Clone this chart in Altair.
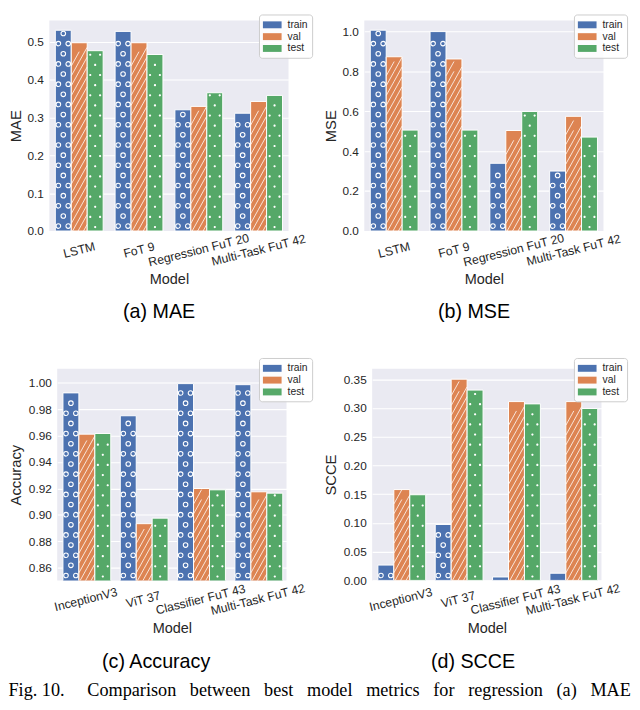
import altair as alt
import pandas as pd

SPLITS = ["train", "val", "test"]
COLORS = ["#4C72B0", "#DD8452", "#55A868"]

REG_MODELS = ["LSTM", "FoT 9", "Regression FuT 20", "Multi-Task FuT 42"]
CLS_MODELS = ["InceptionV3", "ViT 37", "Classifier FuT 43", "Multi-Task FuT 42"]

MAE_TRAIN = [0.530, 0.527, 0.320, 0.311]
MAE_VAL = [0.497, 0.497, 0.329, 0.342]
MAE_TEST = [0.476, 0.466, 0.365, 0.358]

MSE_TRAIN = [1.005, 0.998, 0.339, 0.300]
MSE_VAL = [0.872, 0.861, 0.503, 0.574]
MSE_TEST = [0.505, 0.505, 0.598, 0.470]

ACC_TRAIN = [0.9923, 0.9750, 0.9993, 0.9985]
ACC_VAL = [0.9611, 0.8934, 0.9200, 0.9175]
ACC_TEST = [0.9616, 0.8976, 0.9190, 0.9165]

SCCE_TRAIN = [0.0267, 0.0973, 0.0060, 0.0125]
SCCE_VAL = [0.158, 0.350, 0.311, 0.311]
SCCE_TEST = [0.149, 0.331, 0.307, 0.299]

MAE_TICKS = [0.0, 0.1, 0.2, 0.3, 0.4, 0.5]
MSE_TICKS = [0.0, 0.2, 0.4, 0.6, 0.8, 1.0]
ACC_TICKS = [0.86, 0.88, 0.90, 0.92, 0.94, 0.96, 0.98, 1.00]
SCCE_TICKS = [0.00, 0.05, 0.10, 0.15, 0.20, 0.25, 0.30, 0.35]

NB = "\u00a0"
CAPTION_WORDS = ["Fig.", "10.", "Comparison", "between", "best", "model",
                 "metrics", "for", "regression", "(a)", "MAE"]

FONT = "Liberation Sans"
INK = "#262626"

# hatch glyphs (unit square paths, 1 unit = 8 px at size 256)
RING_PAIR = ("M-0.915,0a0.29,0.29 0 1,0 0.58,0a0.29,0.29 0 1,0 -0.58,0"
             "M0.335,0a0.29,0.29 0 1,0 0.58,0a0.29,0.29 0 1,0 -0.58,0")
RING_ONE = "M-0.29,0a0.29,0.29 0 1,0 0.58,0a0.29,0.29 0 1,0 -0.58,0"
DOT_PAIR = ("M-0.765,0a0.14,0.14 0 1,0 0.28,0a0.14,0.14 0 1,0 -0.28,0"
            "M0.485,0a0.14,0.14 0 1,0 0.28,0a0.14,0.14 0 1,0 -0.28,0")
DOT_ONE = "M-0.14,0a0.14,0.14 0 1,0 0.28,0a0.14,0.14 0 1,0 -0.28,0"
SLASH_L = "M-1,0.9L0,-0.9"
SLASH_R = "M0,0.9L1,-0.9"


def to_long(models, tr, va, te):
    rows = []
    for s, vals in zip(SPLITS, [tr, va, te]):
        for m, v in zip(models, vals):
            rows.append({"Model": m, "split": s, "value": v})
    return pd.DataFrame(rows)


def panel(df, models, ylabel, domain, ticks, fmt, w, h, lx, ly, title_x, caption, cap_dx):
    dmin, dmax = domain
    u = (dmax - dmin) / h  # data units per pixel

    x = alt.X(
        "Model:N", sort=models,
        scale=alt.Scale(paddingInner=0.2, paddingOuter=0.1),
        axis=alt.Axis(
            title="Model", labelAngle=-14, labelAlign="center", labelBaseline="middle",
            labelPadding=19, labelFontSize=12.4, labelFont=FONT, labelColor=INK,
            titleFont=FONT, titleFontSize=14.7, titleFontWeight="normal", titleColor=INK,
            titleY=49, titleBaseline="middle",
            ticks=False, domain=False, grid=False, labelLimit=200,
        ),
    )
    yscale = alt.Scale(domain=domain, zero=False, nice=False)
    yaxis = alt.Axis(
        title=ylabel, values=ticks, format=fmt,
        labelFont=FONT, labelFontSize=12, labelColor=INK, labelPadding=6,
        titleFont=FONT, titleFontSize=15, titleFontWeight="normal", titleColor=INK,
        titleX=title_x, titleBaseline="middle", titleAlign="center",
        ticks=False, domain=False, grid=True, gridColor="white", gridWidth=1.1,
    )
    xoff = alt.XOffset("split:N", sort=SPLITS,
                       scale=alt.Scale(domain=SPLITS, paddingInner=0, paddingOuter=0))
    color = alt.Color(
        "split:N", sort=SPLITS,
        scale=alt.Scale(domain=SPLITS, range=COLORS),
        legend=alt.Legend(
            title=None, orient="none", legendX=lx, legendY=ly,
            fillColor="rgba(255,255,255,0.85)", strokeColor="#CCCCCC", cornerRadius=3,
            padding=4, rowPadding=0, labelFont=FONT, labelFontSize=10.5, labelColor=INK,
            labelOffset=12, symbolType="M-1,-0.54H1.92V0.54H-1Z", symbolSize=169,
            symbolStrokeWidth=0, symbolOpacity=1,
        ),
    )
    base = alt.Chart(df)
    bars = base.mark_bar(stroke="white", strokeWidth=1, clip=True).encode(
        x=x, xOffset=xoff, y=alt.Y("value:Q", scale=yscale, axis=yaxis), color=color,
    )

    def pattern(split, start_px, stop_px, step_px, parity, mark):
        start = dmin + start_px * u
        step = step_px * u
        ch = base.transform_filter(alt.datum.split == split).transform_calculate(
            rows=f"sequence({start}, datum.value - {stop_px * u}, {step})"
        ).transform_flatten(["rows"], as_=["row"]).transform_calculate(
            k=f"round((datum.row - {start}) / {step})"
        )
        if parity is not None:
            ch = ch.transform_filter(f"datum.k % 2 == {parity}")
        return ch.mark_point(**mark).encode(
            x=x, xOffset=xoff, y=alt.Y("row:Q", scale=yscale, axis=yaxis),
        )

    ring = dict(filled=False, stroke="white", strokeWidth=1.1, size=256, opacity=1, clip=True)
    dot = dict(filled=True, fill="white", strokeWidth=0, size=256, opacity=1, clip=True)
    seg = dict(filled=False, stroke="white", strokeWidth=0.8, size=256, opacity=1, clip=True)

    layers = [
        bars,
        pattern("train", 5, 3, 10.3, 0, dict(ring, shape=RING_PAIR)),
        pattern("train", 5, 3, 10.3, 1, dict(ring, shape=RING_ONE)),
        pattern("test", 4, 2, 10.3, 0, dict(dot, shape=DOT_ONE)),
        pattern("test", 4, 2, 10.3, 1, dict(dot, shape=DOT_PAIR)),
        pattern("val", -5, 7.2, 10, None, dict(seg, shape=SLASH_L)),
        pattern("val", -0.6, 7.2, 10, None, dict(seg, shape=SLASH_R)),
    ]
    return alt.layer(*layers).properties(
        width=w, height=h,
        title=alt.TitleParams(
            caption, orient="bottom", anchor="middle", frame="group", dx=cap_dx,
            font=FONT, fontSize=20, fontWeight="normal", color="black", offset=17,
        ),
    )


pa = panel(to_long(REG_MODELS, MAE_TRAIN, MAE_VAL, MAE_TEST), REG_MODELS, "MAE",
           [0, 0.556], MAE_TICKS, ".1f", 243, 214, 213, -6, -34.5, "(a) MAE", -10)
pb = panel(to_long(REG_MODELS, MSE_TRAIN, MSE_VAL, MSE_TEST), REG_MODELS, "MSE",
           [0, 1.054], MSE_TICKS, ".1f", 243, 214, 213, -6, -34.5, "(b) MSE", -10)
pc = panel(to_long(CLS_MODELS, ACC_TRAIN, ACC_VAL, ACC_TEST), CLS_MODELS, "Accuracy",
           [0.8505, 1.0105], ACC_TICKS, ".2f", 233, 215, 205, -11, -42.5, "(c) Accuracy", -16)
pd_ = panel(to_long(CLS_MODELS, SCCE_TRAIN, SCCE_VAL, SCCE_TEST), CLS_MODELS, "SCCE",
            [0, 0.368], SCCE_TICKS, ".2f", 233, 215, 205, -11, -42.5, "(d) SCCE", -14)

spacer = alt.Chart(pd.DataFrame({"a": [0]})).mark_point(opacity=0).encode(
    x=alt.value(0), y=alt.value(0)
).properties(width=1, height=10, view=alt.ViewBackground(fill="transparent", stroke="transparent"))


def indep(c):
    return c.resolve_scale(color="independent", y="independent", x="independent").resolve_legend(color="independent")


row1 = indep(alt.hconcat(pa, pb, spacing=77, bounds="flush"))
row2_inner = indep(alt.hconcat(pc, pd_, spacing=87, bounds="flush"))
row2 = indep(alt.hconcat(spacer, row2_inner, spacing=7, bounds="flush"))

caption = CAPTION_WORDS[0] + " " + CAPTION_WORDS[1] + " " + NB * 4
caption += (" " + NB * 2).join(CAPTION_WORDS[2:])

chart = indep(alt.concat(row1, row2, columns=1, align="none", spacing=35)).properties(
    padding=0,
    background="white",
    title=alt.TitleParams(
        caption, orient="bottom", anchor="start", font="Liberation Serif", fontSize=18.5,
        fontWeight="normal", color="black", offset=10,
    ),
).configure_view(fill="#EAEAF2", strokeWidth=0)

chart.save("out.html", embed_options={"renderer": "svg", "actions": False})
